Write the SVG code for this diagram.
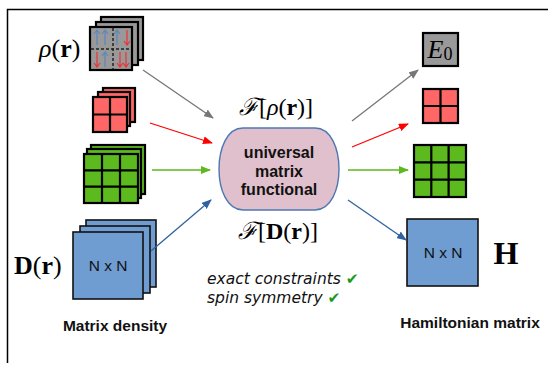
<svg xmlns="http://www.w3.org/2000/svg" width="548" height="366" viewBox="0 0 548 366">
<defs>
<style>
.frame{fill:none;stroke:#000;stroke-width:1.5}
.box{stroke:#000;stroke-width:2.2}
.gray{fill:#999}
.red{fill:#ff6666}
.green{fill:#5cb91e}
.blue{fill:#6f9dd2;stroke:#111;stroke-width:1.6}
.grid{stroke:#000;stroke-width:2.2;fill:none}
.math{font-family:"Liberation Serif","DejaVu Serif",serif;fill:#000}
.lbl{font-family:"Liberation Sans",Arial,sans-serif;font-weight:bold;fill:#111;text-anchor:middle}
.nxn{font-family:"Liberation Sans",Arial,sans-serif;font-size:15.5px;fill:#111;text-anchor:middle}
.it{font-family:"DejaVu Sans",sans-serif;font-style:italic;font-size:15.5px;fill:#111}
.chk{fill:#1a9a1a;font-style:normal}
.conn{fill:none;stroke-width:1.3}
</style>
<marker id="mg" viewBox="0 0 10 8" refX="9" refY="4" markerWidth="10" markerHeight="8" markerUnits="userSpaceOnUse" orient="auto"><path d="M0,0 L10,4 L0,8 Z" fill="#777"/></marker>
<marker id="mr" viewBox="0 0 10 8" refX="9" refY="4" markerWidth="10" markerHeight="8" markerUnits="userSpaceOnUse" orient="auto"><path d="M0,0 L10,4 L0,8 Z" fill="#f00"/></marker>
<marker id="mgr" viewBox="0 0 10 8" refX="9" refY="4" markerWidth="10" markerHeight="8" markerUnits="userSpaceOnUse" orient="auto"><path d="M0,0 L10,4 L0,8 Z" fill="#5cb91e"/></marker>
<marker id="mb" viewBox="0 0 10 8" refX="9" refY="4" markerWidth="10" markerHeight="8" markerUnits="userSpaceOnUse" orient="auto"><path d="M0,0 L10,4 L0,8 Z" fill="#2f62a0"/></marker>
</defs>
<rect width="548" height="366" fill="#fff"/>
<path class="frame" d="M7.5,363 V9.5 H548"/>

<g id="rho-stack">
<rect class="box gray" x="101" y="17" width="42" height="43"/>
<rect class="box gray" x="96" y="22" width="42" height="43"/>
<rect class="box gray" x="90" y="27" width="42" height="43"/>
<path d="M113,28 V69 M91,49 H131" stroke="#222" stroke-width="1.5" stroke-dasharray="3,2"/>
<g stroke-width="1.2" fill="none">
<path d="M97,45 V31 M94,34 L97,30 L100,34 M105,45 V31 M102,34 L105,30 L108,34 M117,45 V31 M114,34 L117,30 L120,34" stroke="#5b86c2"/>
<path d="M127,30 V44 M124,41 L127,45 L130,41" stroke="#e33"/>
<path d="M97,52 V66 M94,63 L97,67 L100,63 M120,52 V66 M117,63 L120,67 L123,63 M126,52 V66 M123,63 L126,67 L129,63" stroke="#e33"/>
<path d="M105,67 V53 M102,56 L105,52 L108,56" stroke="#5b86c2"/>
</g>
<text class="math" x="39" y="57" font-size="26"><tspan font-style="italic">ρ</tspan>(<tspan font-weight="bold">r</tspan>)</text>
</g>

<g id="red-stack">
<rect class="box red" x="103" y="88" width="32" height="34"/>
<rect class="box red" x="98" y="92" width="32" height="34"/>
<rect class="box red" x="93" y="97" width="34" height="35"/>
<path class="grid" d="M110,97 V132 M93,114.5 H127"/>
</g>

<g id="green-stack">
<rect class="box green" x="91" y="145" width="54" height="49"/>
<rect class="box green" x="87" y="149" width="54" height="49"/>
<rect class="box green" x="84" y="154" width="54" height="49"/>
<path class="grid" d="M102,154 V203 M120,154 V203 M84,170.3 H138 M84,186.6 H138"/>
</g>

<g id="D-stack">
<rect class="blue" x="86" y="220" width="70" height="67"/>
<rect class="blue" x="80" y="226" width="70" height="67"/>
<rect class="blue" x="73" y="232" width="70" height="67"/>
<text class="nxn" x="108" y="271">N x N</text>
<text class="math" x="14" y="274" font-size="26"><tspan font-weight="bold">D</tspan>(<tspan font-weight="bold">r</tspan>)</text>
<text class="lbl" x="115" y="331" font-size="15.5">Matrix density</text>
</g>

<g id="functional">
<path d="M243,128 H315 C347,128 347,210 315,210 H243 C211,210 211,128 243,128 Z" fill="#dfc0cc" stroke="#4f77b3" stroke-width="1.4"/>
<text class="lbl" font-size="16" x="279" y="158">universal</text>
<text class="lbl" font-size="16" x="279" y="177">matrix</text>
<text class="lbl" font-size="16" x="279" y="195">functional</text>
<text class="math" x="276" y="115" font-size="24" text-anchor="middle"><tspan font-style="italic">ℱ</tspan>[<tspan font-style="italic">ρ</tspan>(<tspan font-weight="bold">r</tspan>)]</text>
<text class="math" x="278" y="239" font-size="24" text-anchor="middle"><tspan font-style="italic">ℱ</tspan>[<tspan font-weight="bold">D</tspan>(<tspan font-weight="bold">r</tspan>)]</text>
</g>

<g id="constraints">
<text class="it" x="207" y="284">exact constraints <tspan class="chk">✔</tspan></text>
<text class="it" x="207" y="303">spin symmetry <tspan class="chk">✔</tspan></text>
</g>

<g id="E0">
<rect class="box gray" x="423" y="33" width="35" height="33"/>
<text class="math" x="440" y="58" font-size="26" text-anchor="middle" font-style="italic">E<tspan font-style="normal" font-size="18" dy="2">0</tspan></text>
</g>

<g id="red-out">
<rect class="box red" x="423" y="89" width="35" height="34"/>
<path class="grid" d="M440.5,89 V123 M423,106 H458"/>
</g>

<g id="green-out">
<rect class="box green" x="414" y="145" width="52" height="52"/>
<path class="grid" d="M431.3,145 V197 M448.6,145 V197 M414,162.3 H466 M414,179.6 H466"/>
</g>

<g id="H">
<rect class="blue" x="407" y="219" width="71" height="67"/>
<text class="nxn" x="443" y="258">N x N</text>
<text class="math" x="506" y="264" font-size="32" font-weight="bold" text-anchor="middle">H</text>
<text class="lbl" x="470" y="328" font-size="15.5">Hamiltonian matrix</text>
</g>

<g id="connectors">
<path class="conn" d="M143,70 L213,118" stroke="#777" marker-end="url(#mg)"/>
<path class="conn" d="M150,123 L212,143" stroke="#f00" marker-end="url(#mr)"/>
<path class="conn" d="M152,170 L210,170" stroke="#5cb91e" marker-end="url(#mgr)"/>
<path class="conn" d="M151,251 L211,200" stroke="#2f62a0" marker-end="url(#mb)"/>
<path class="conn" d="M352,121 L418,70" stroke="#777" marker-end="url(#mg)"/>
<path class="conn" d="M352,147 L408,124" stroke="#f00" marker-end="url(#mr)"/>
<path class="conn" d="M348,170 L408,170" stroke="#5cb91e" marker-end="url(#mgr)"/>
<path class="conn" d="M348,200 L406,240" stroke="#2f62a0" marker-end="url(#mb)"/>
</g>
</svg>
